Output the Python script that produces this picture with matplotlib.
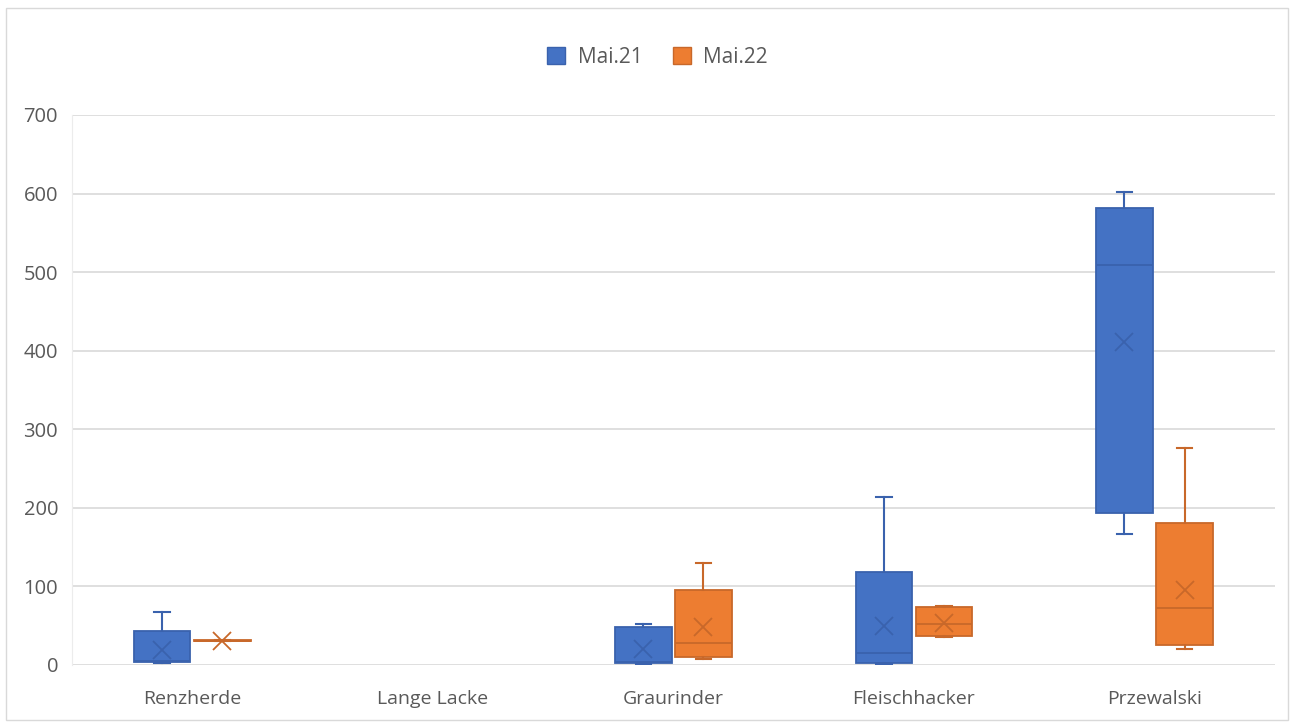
"""Boxplot Mai.21 vs Mai.22 je Herde."""

import matplotlib.pyplot as plt
from matplotlib.patches import Patch, Rectangle

categories = ["Renzherde", "Lange Lacke", "Graurinder", "Fleischhacker", "Przewalski"]
series = ["Mai.21", "Mai.22"]

# stats per category (None = keine Daten)
mai21_min = [3, None, 1, 1, 167]
mai21_q1 = [4, None, 3, 2, 193]
mai21_med = [5, None, 4, 15, 509]
mai21_q3 = [43, None, 48, 118, 582]
mai21_max = [67, None, 52, 214, 602]
mai21_mean = [19, None, 20, 50, 411]

mai22_min = [30, None, 7, 36, 20]
mai22_q1 = [30, None, 10, 37, 25]
mai22_med = [31, None, 28, 52, 72]
mai22_q3 = [32, None, 95, 74, 181]
mai22_max = [32, None, 130, 75, 276]
mai22_mean = [31, None, 48, 53, 96]

yticks = [0, 100, 200, 300, 400, 500, 600, 700]

FILL = ["#4472c4", "#ed7d31"]
EDGE = ["#3a62ad", "#c8682a"]
GRID = "#d9d9d9"
TXT = "#595959"

plt.rcParams["font.family"] = ["Open Sans", "DejaVu Sans"]

fig = plt.figure(figsize=(12.92, 7.24), dpi=100)
ax = fig.add_axes([0.0557, 0.0815, 0.931, 0.7597])

data = [
    (mai21_min, mai21_q1, mai21_med, mai21_q3, mai21_max, mai21_mean),
    (mai22_min, mai22_q1, mai22_med, mai22_q3, mai22_max, mai22_mean),
]
offsets = [-0.125, 0.125]
width = 0.235

for s, (mn, q1, med, q3, mx, mean) in enumerate(data):
    stats, pos = [], []
    for i in range(len(categories)):
        if q1[i] is None:
            continue
        stats.append(dict(whislo=mn[i], q1=q1[i], med=med[i], q3=q3[i],
                          whishi=mx[i], mean=mean[i], fliers=[]))
        pos.append(i + offsets[s])
    ax.bxp(stats, positions=pos, widths=width, patch_artist=True,
           showmeans=True, showfliers=False, capwidths=0.065,
           boxprops=dict(facecolor=FILL[s], edgecolor=EDGE[s], linewidth=1.3),
           medianprops=dict(color=EDGE[s], linewidth=1.3),
           whiskerprops=dict(color=EDGE[s], linewidth=1.5),
           capprops=dict(color=EDGE[s], linewidth=1.5),
           meanprops=dict(marker="x", markeredgecolor=EDGE[s], markersize=13,
                          markeredgewidth=1.3),
           zorder=3)

ax.set_xlim(-0.5, len(categories) - 0.5)
ax.set_ylim(0, 700)
ax.set_yticks(yticks)
ax.set_xticks(range(len(categories)))
ax.set_xticklabels(categories)
ax.tick_params(axis="y", length=0, labelsize=14.5, colors=TXT, pad=10)
ax.tick_params(axis="x", length=0, labelsize=14, colors=TXT, pad=18)
ax.yaxis.grid(True, color=GRID, linewidth=1.2, zorder=0)
ax.set_axisbelow(True)
for sp in ["top", "right", "bottom"]:
    ax.spines[sp].set_visible(False)
ax.spines["left"].set_color("#ececec")

handles = [Patch(facecolor=FILL[k], edgecolor=EDGE[k], label=series[k]) for k in range(2)]
fig.legend(handles=handles, loc="center", bbox_to_anchor=(0.509, 0.921), ncol=2,
           frameon=False, fontsize=15, handlelength=0.87, handleheight=0.87,
           columnspacing=1.45, handletextpad=0.6, labelcolor=TXT)

fig.patches.append(Rectangle((0.005, 0.005), 0.992, 0.984, transform=fig.transFigure,
                             fill=False, edgecolor="#d9d9d9", linewidth=1))

fig.savefig("out.png", dpi=100)
